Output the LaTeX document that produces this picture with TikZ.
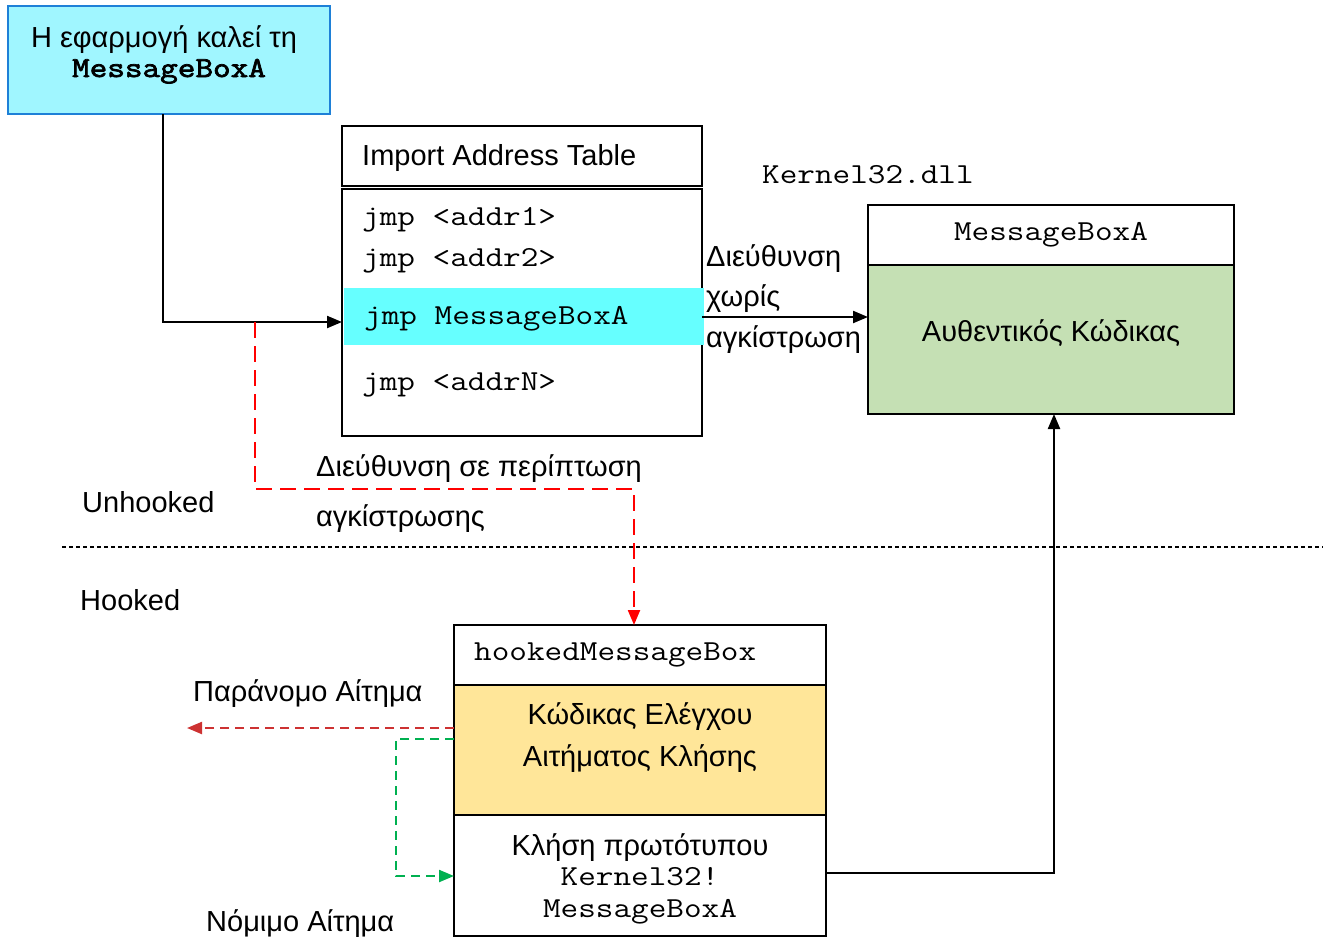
\documentclass[tikz,border=0pt]{standalone}
\usepackage{fontspec}
\setmainfont{Liberation Sans}
\setmonofont{Latin Modern Mono}[FakeStretch=1.18]
\newfontfamily\codebold{Latin Modern Mono}[FakeStretch=1.18,FakeBold=2.5]
\usetikzlibrary{arrows.meta}

\definecolor{appfill}{RGB}{160,246,255}
\definecolor{appedge}{RGB}{30,128,215}
\definecolor{rowcyan}{RGB}{102,255,255}
\definecolor{codegreen}{RGB}{197,224,180}
\definecolor{checkyellow}{RGB}{255,230,153}
\definecolor{hookred}{RGB}{255,0,0}
\definecolor{denyred}{RGB}{205,50,50}
\definecolor{allowgreen}{RGB}{0,176,80}

\begin{document}
\begin{tikzpicture}[x=1pt,y=-1pt,
  font=\fontsize{29}{35}\selectfont,
  box/.style={draw, line width=1.6pt, anchor=north west, inner sep=0pt, outer sep=0pt},
  band/.style={anchor=north west, inner sep=0pt, outer sep=0pt},
  lbl/.style={inner sep=0pt, anchor=base west},
  clbl/.style={inner sep=0pt, anchor=base},
  code/.style={font=\fontsize{29}{35}\selectfont\ttfamily},
  link/.style={line width=2.2pt, -{Triangle[length=15pt,width=12pt]}},
  hooklink/.style={line width=2.2pt, draw=hookred, dash pattern=on 16pt off 8pt,
    -{Triangle[length=15pt,width=12pt]}},
  denylink/.style={line width=2.2pt, draw=denyred, dash pattern=on 9pt off 6pt,
    -{Triangle[length=15pt,width=12pt]}},
  allowlink/.style={line width=2.2pt, draw=allowgreen, dash pattern=on 9pt off 6pt,
    -{Triangle[length=15pt,width=12pt]}},
  divider/.style={line width=1.1pt, dash pattern=on 4pt off 3pt}]

\useasboundingbox (0,0) rectangle (1323,938);

% calling application
\node[box, draw=appedge, fill=appfill, minimum width=322, minimum height=108] (app) at (8,6) {};
\node[clbl] (appl1) at (164,47) {Η εφαρμογή καλεί τη};
\node[clbl, font=\fontsize{29}{35}\selectfont\codebold] (appl2) at (169,77) {MessageBoxA};

% import address table
\node[box, minimum width=360, minimum height=60] (iathead) at (342,126) {};
\node[lbl] (iattitle) at (362,165) {Import Address Table};
\node[box, minimum width=360, minimum height=247] (iatbody) at (342,189) {};
\node[band, fill=rowcyan, minimum width=360, minimum height=57] (hl) at (343.5,288) {};
\node[lbl, code] (e1) at (362,225) {jmp <addr1>};
\node[lbl, code] (e2) at (362,266) {jmp <addr2>};
\node[lbl, code] (e3) at (364,324) {jmp MessageBoxA};
\node[lbl, code] (e4) at (362,390) {jmp <addrN>};

% kernel32 routine
\node[lbl, code] (dll) at (762,183) {Kernel32.dll};
\node[box, minimum width=366, minimum height=60] (khead) at (868,205) {};
\node[clbl, code] (ktitle) at (1051,240) {MessageBoxA};
\node[box, fill=codegreen, minimum width=366, minimum height=149] (kbody) at (868,265) {};
\node[clbl] (ktext) at (1051,341) {Αυθεντικός Κώδικας};

% hook routine
\node[box, minimum width=372, minimum height=60] (hhead) at (454,625) {};
\node[lbl, code] (htitle) at (474,660) {hookedMessageBox};
\node[box, fill=checkyellow, minimum width=372, minimum height=130] (check) at (454,685) {};
\node[clbl] (chk1) at (640,724) {Κώδικας Ελέγχου};
\node[clbl] (chk2) at (640,766) {Αιτήματος Κλήσης};
\node[box, minimum width=372, minimum height=121] (call) at (454,815) {};
\node[clbl] (call1) at (640,855) {Κλήση πρωτότυπου};
\node[clbl, code] (call2) at (640,885) {Kernel32!};
\node[clbl, code] (call3) at (640,917) {MessageBoxA};

% free labels
\node[lbl] (direct1) at (706,266) {Διεύθυνση};
\node[lbl] (direct2) at (706,306) {χωρίς};
\node[lbl] (direct3) at (706,347) {αγκίστρωση};
\node[lbl] (hooked1) at (316,476) {Διεύθυνση σε περίπτωση};
\node[lbl] (hooked2) at (316,526) {αγκίστρωσης};
\node[lbl] (unh) at (82,512) {Unhooked};
\node[lbl] (hkd) at (80,610) {Hooked};
\node[lbl] (deny) at (193,701) {Παράνομο Αίτημα};
\node[lbl] (allow) at (206,931) {Νόμιμο Αίτημα};

% route points
\coordinate (bend) at (163,322);
\coordinate (split) at (255,322);
\coordinate (redturn) at (634,489);
\coordinate (direct) at (702,317);
\coordinate (back) at (1054,873);
\coordinate (denyend) at (187,728);
\coordinate (g1) at (396,739);
\coordinate (g2) at (396,876);
\coordinate (s0) at (62,547);
\coordinate (s1) at (1323,547);

% connectors
\draw[link] (app.south -| bend) -- (bend) -- (bend -| iatbody.west);
\draw[link] (direct) -- (direct -| kbody.west);
\draw[link] (call.east |- back) -- (back) -- (back |- kbody.south);
\draw[hooklink] (split) |- (redturn) -- (redturn |- hhead.north);
\draw[denylink] (check.west |- denyend) -- (denyend);
\draw[allowlink] (check.west |- g1) -- (g1) -- (g2) -- (g2 -| call.west);
\draw[divider] (s0) -- (s1);
\end{tikzpicture}
\end{document}
